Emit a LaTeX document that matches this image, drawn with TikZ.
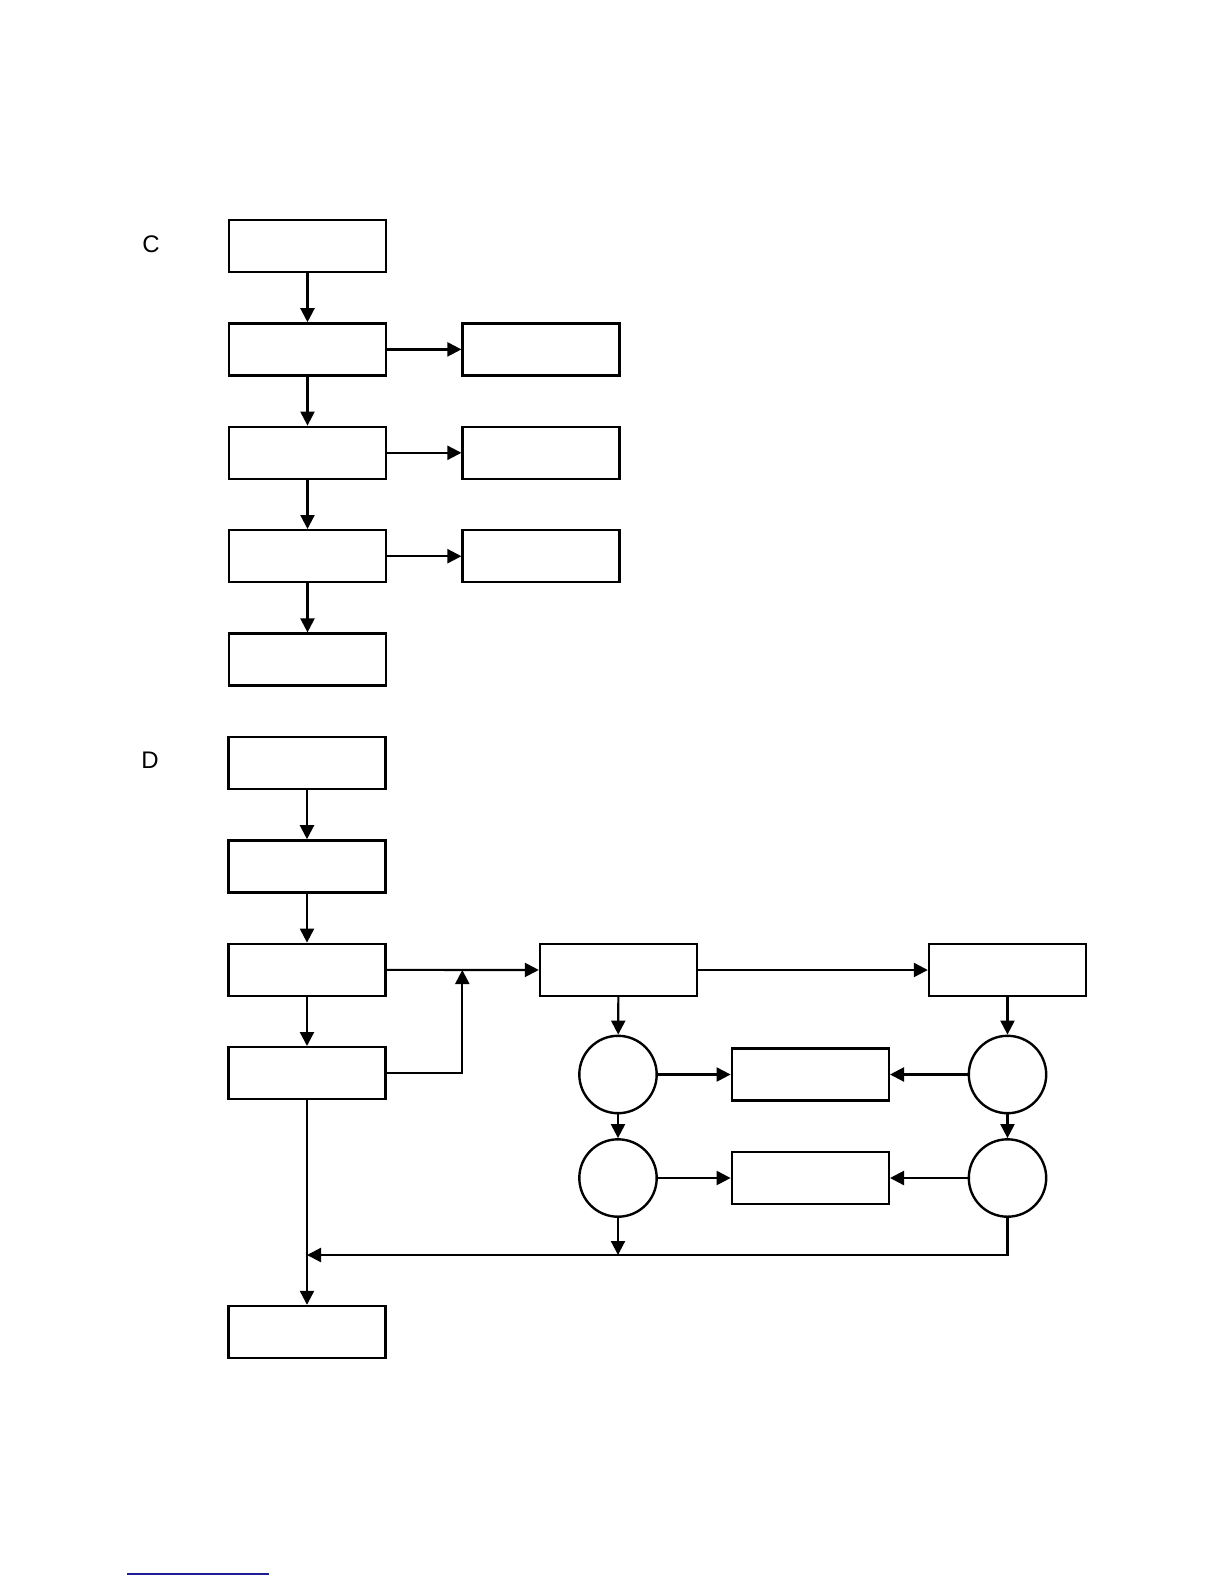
\documentclass[tikz,border=0pt]{standalone}
\usepackage{fontspec}
\setmainfont{Liberation Sans}
\usepackage{tikz}
\usetikzlibrary{arrows.meta,positioning,calc}
\usepackage{xcolor}
\definecolor{ruleBlue}{RGB}{30,30,150}

\begin{document}
\begin{tikzpicture}[x=0.5pt, y=-0.5pt, node distance=24.5pt,
  box/.style={draw, line width=1.2pt, minimum width=78.5pt, minimum height=26pt, inner sep=0pt},
  disc/.style={draw, circle, line width=1.2pt, minimum size=38.7pt, inner sep=0pt},
  arr/.style={-{Triangle[length=7pt,width=7pt]}, line width=1.1pt},
  tag/.style={font=\fontsize{12}{14}\selectfont}]
  \useasboundingbox (0,0) rectangle (1224,1584);

  % panel C
  \node[tag] (lblC) at (151,244) {C};
  \node[box] (c1) at (307.5,246) {};
  \node[box, below=of c1] (c2) {};
  \node[box, below=of c2] (c3) {};
  \node[box, below=of c3] (c4) {};
  \node[box, below=of c4] (c5) {};
  \node[box, right=37.1pt of c2] (c6) {};
  \node[box, right=37.1pt of c3] (c7) {};
  \node[box, right=37.1pt of c4] (c8) {};
  \draw[arr] (c1) -- (c2);
  \draw[arr] (c2) -- (c3);
  \draw[arr] (c3) -- (c4);
  \draw[arr] (c4) -- (c5);
  \draw[arr] (c2) -- (c6);
  \draw[arr] (c3) -- (c7);
  \draw[arr] (c4) -- (c8);

  % panel D
  \node[tag] (lblD) at (150,760) {D};
  \node[box] (d1) at (307,763) {};
  \node[box, below=of d1] (d2) {};
  \node[box, below=of d2] (d3) {};
  \node[box, below=of d3] (d4) {};
  \node[box] (d5) at (307,1332) {};
  \node[box] (m) at (618.5,970) {};
  \node[box] (r) at (1007.5,970) {};
  \node[disc] (a1) at (618,1074.5) {};
  \node[disc] (a2) at (618,1178) {};
  \node[disc] (b1) at (1007.5,1074.5) {};
  \node[disc] (b2) at (1007.5,1178) {};
  \node[box] (p1) at (810.3,1074.5) {};
  \node[box] (p2) at (810.3,1178) {};
  \coordinate (jn) at (462.3,970);
  \coordinate (ja) at (618,1255);
  \coordinate (jd) at (307,1255);

  \draw[arr] (d1) -- (d2);
  \draw[arr] (d2) -- (d3);
  \draw[arr] (d3) -- (m);
  \draw[arr] (d3) -- (d4);
  \draw[arr] (d4) -- (d5);
  \draw[arr] (d4.east) -| (jn);
  \draw[arr] (m) -- (r);
  \draw[arr] (m) -- (a1);
  \draw[arr] (a1) -- (a2);
  \draw[arr] (r) -- (b1);
  \draw[arr] (b1) -- (b2);
  \draw[arr] (a1) -- (p1);
  \draw[arr] (b1) -- (p1);
  \draw[arr] (a2) -- (p2);
  \draw[arr] (b2) -- (p2);
  \draw[arr] (a2) -- (ja);
  \draw[arr] (b2.south) |- (jd);

  \draw[ruleBlue, line width=0.7pt] (127,1574) -- (269,1574);
\end{tikzpicture}
\end{document}
